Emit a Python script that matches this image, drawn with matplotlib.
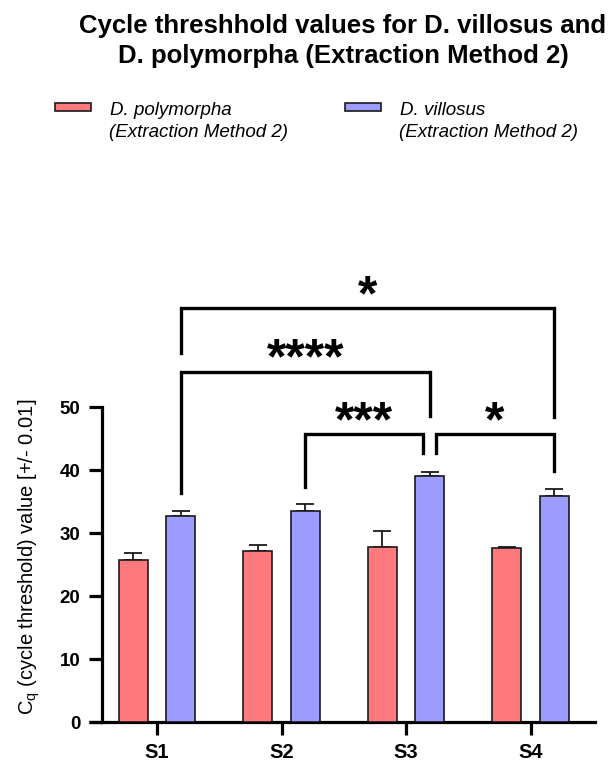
import matplotlib
matplotlib.use("Agg")
import matplotlib.pyplot as plt
from matplotlib.patches import Rectangle
import numpy as np

plt.rcParams['font.family'] = ['Liberation Sans', 'DejaVu Sans']
plt.rcParams['mathtext.fontset'] = 'custom'
plt.rcParams['mathtext.rm'] = 'Liberation Sans'

# ---------------- data ----------------
categories = ["S1", "S2", "S3", "S4"]
polymorpha_mean = [25.8, 27.2, 27.9, 27.7]
polymorpha_err = [1.0, 0.9, 2.5, 0.15]
villosus_mean = [32.7, 33.5, 39.1, 35.9]
villosus_err = [0.9, 1.1, 0.7, 1.1]

series_labels = ["D. polymorpha", "D. villosus"]
series_sub = "(Extraction Method 2)"

# significance brackets: (group a, group b, bracket height, leg end a, leg end b, label)
brackets = [
    (0, 3, 65.7, 58.6, 48.5, "*"),
    (0, 2, 55.6, 36.4, 48.6, "****"),
    (1, 2, 45.7, 37.3, 42.7, "***"),
    (2, 3, 45.7, 42.7, 39.9, "*"),
]

title_lines = ["Cycle threshhold values for D. villosus and",
               "D. polymorpha (Extraction Method 2)"]
ylabel = "C$_\\mathregular{q}$ (cycle threshold) value [+/- 0.01]"

red = "#FF7A7F"
blue = "#9C9CFF"
edge = "#1a1a1a"

W, H = 610, 764
fig = plt.figure(figsize=(W / 100, H / 100), dpi=100)

y0_px = 722.3
ppu = 6.3
ytop = 72
left_px, right_px = 102, 595
ax = fig.add_axes([left_px / W, (H - y0_px) / H, (right_px - left_px) / W, ytop * ppu / H])

x = np.arange(len(categories))
off = 0.19
bw = 0.233
ax.bar(x - off, polymorpha_mean, width=bw, color=red, edgecolor=edge, linewidth=1.2, zorder=3)
ax.bar(x + off, villosus_mean, width=bw, color=blue, edgecolor=edge, linewidth=1.2, zorder=3)
ax.errorbar(x - off, polymorpha_mean, yerr=[np.zeros(4), polymorpha_err], fmt='none',
            ecolor=edge, elinewidth=1.3, capsize=6.2, capthick=1.3, zorder=2)
ax.errorbar(x + off, villosus_mean, yerr=[np.zeros(4), villosus_err], fmt='none',
            ecolor=edge, elinewidth=1.3, capsize=6.2, capthick=1.3, zorder=2)

ax.set_xlim(-0.442, 3.518)
ax.set_ylim(0, ytop)
for s in ["top", "right"]:
    ax.spines[s].set_visible(False)
ax.spines["left"].set_bounds(0, 50)
for s in ["left", "bottom"]:
    ax.spines[s].set_linewidth(2.3)
ax.set_yticks(np.arange(0, 51, 10))
ax.set_xticks(x)
ax.set_xticklabels(categories, fontsize=14.5, fontweight='bold')
ax.tick_params(axis='y', length=9.4, width=2.3, labelsize=13.5, pad=6)
ax.tick_params(axis='x', length=9.2, width=2.3, labelsize=14.5, pad=6)
for lab in ax.get_yticklabels():
    lab.set_fontweight('bold')
# extend x axis line to the left under y ticks
ax.plot([-13 / (right_px - left_px), 0], [0, 0], transform=ax.get_yaxis_transform(),
        color='black', linewidth=2.3, solid_capstyle='butt', clip_on=False)

# brackets
gap = 0.05
fs = 36
for a, b, yb, ya_end, yb_end, lab in brackets:
    xa = x[a] + off
    xb = x[b] + off
    # adjacent brackets meeting at the same bar leave a small gap
    if b == 2 and a == 1:
        xb -= gap
    if a == 2 and b == 3:
        xa += gap
    ax.plot([xa, xa, xb, xb], [ya_end, yb, yb, yb_end], color='black', linewidth=2.4,
            solid_joinstyle='miter', clip_on=False, zorder=4)
    ax.annotate(lab, xy=((xa + xb) / 2, yb), xytext=(0, 15.1 - 0.45 * fs),
                textcoords='offset points', ha='center', va='baseline',
                fontsize=fs, fontweight='bold', annotation_clip=False)

# title
fig.text(343 / W, 1 - 33.5 / H, title_lines[0], ha='center', va='baseline',
         fontsize=18.5, fontweight='bold')
fig.text(343 / W, 1 - 63.5 / H, title_lines[1], ha='center', va='baseline',
         fontsize=18.5, fontweight='bold')

# y label
fig.text(29 / W, 1 - 556.7 / H, ylabel, rotation=90, ha='center', va='center', fontsize=14.5)

# legend
for px0, col, lab in [(55, red, series_labels[0]), (345, blue, series_labels[1])]:
    fig.patches.append(Rectangle((px0 / W, 1 - 110.7 / H), 35.7 / W, 7.4 / H,
                                 transform=fig.transFigure, facecolor=col,
                                 edgecolor=edge, linewidth=1.2))
    fig.text((px0 + 55) / W, 1 - 115 / H, lab, ha='left', va='baseline',
             fontsize=13.5, style='italic')
    fig.text((px0 + 54) / W, 1 - 137 / H, series_sub, ha='left', va='baseline',
             fontsize=13.5, style='italic')

fig.savefig("out.png", dpi=100)
